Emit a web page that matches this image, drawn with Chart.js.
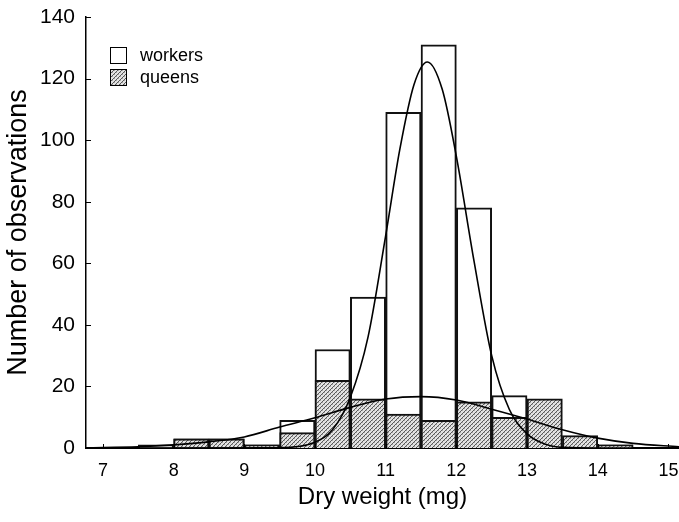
<!DOCTYPE html>
<html><head><meta charset="utf-8">
<script src="https://cdn.jsdelivr.net/npm/chart.js@4/dist/chart.umd.min.js"></script>
<style>html,body{margin:0;padding:0;background:#fff}#wrap{width:679px;height:522px;position:relative}</style>
</head><body><div id="wrap"><canvas id="c"></canvas></div>
<script>
// Histogram bins (centre of each 0.5 mg class)
const binCentres = [7.75, 8.25, 8.75, 9.25, 9.75, 10.25, 10.75, 11.25, 11.75, 12.25, 12.75, 13.25, 13.75, 14.25, 14.75];
const workers    = [1, 3, 3, 1, 9, 32, 49, 109, 131, 78, 17, null, null, 1, null];
const queens     = [null, 3, 3, 1, 5, 22, 16, 11, 9, 15, 10, 16, 4, 1, null];

// Fitted curves
const workerCurveX = [6.76, 9.5, 10.0, 10.25, 10.5, 10.75, 11.0, 11.2, 11.4, 11.59, 11.8, 12.0, 12.25, 12.5, 12.75, 13.0, 13.25, 13.5, 14.0, 15.15];
const workerCurveY = [0, 0.1, 1.9, 6, 16.5, 36, 69, 97, 118, 125.4, 116.5, 94.7, 60.7, 30, 12.5, 4.6, 1.3, 0.2, 0, 0];
const queenCurveX  = [6.76, 7.5, 8.0, 8.5, 9.0, 9.5, 10.0, 10.5, 11.0, 11.5, 12.0, 12.5, 13.0, 13.5, 14.0, 14.5, 15.15];
const queenCurveY  = [0.1, 0.4, 1.0, 2.0, 3.6, 6.8, 9.8, 13.2, 15.9, 16.7, 15.6, 12.6, 9.4, 5.9, 3.2, 1.5, 0.4];

const xTicks = [7, 8, 9, 10, 11, 12, 13, 14, 15];
const yTicks = [0, 20, 40, 60, 80, 100, 120, 140];
const legendLabels = ['workers', 'queens'];
const xTitle = 'Dry weight (mg)';
const yTitle = 'Number of observations';

const FONT = "'Liberation Sans', Arial, Helvetica, sans-serif";

function makeHatch() {
  const p = document.createElement('canvas');
  p.width = 4; p.height = 4;
  const c = p.getContext('2d');
  c.fillStyle = '#e2e2e2';
  c.fillRect(0, 0, 4, 4);
  c.fillStyle = '#5a5a5a';
  for (let i = 0; i < 4; i++) c.fillRect(i, 3 - i, 1, 1);
  c.fillStyle = '#a8a8a8';
  c.fillRect(0, 0, 1, 1); c.fillRect(2, 2, 1, 1);
  return document.createElement('canvas').getContext('2d').createPattern(p, 'repeat');
}
const hatch = makeHatch();

const pts = (xs, ys) => xs.map((x, i) => ({x: x, y: ys[i]}));

const tickMarks = {
  id: 'tickMarks',
  afterDatasetsDraw(chart) {
    const ctx = chart.ctx, xs = chart.scales.x, ys = chart.scales.y, a = chart.chartArea;
    ctx.save();
    ctx.strokeStyle = '#000';
    ctx.lineWidth = 1;
    xTicks.forEach(v => {
      const px = Math.round(xs.getPixelForValue(v)) + 0.5;
      ctx.beginPath(); ctx.moveTo(px, a.bottom); ctx.lineTo(px, a.bottom - 4); ctx.stroke();
    });
    yTicks.forEach(v => {
      const py = Math.round(ys.getPixelForValue(v)) + 0.5;
      ctx.beginPath(); ctx.moveTo(a.left, py); ctx.lineTo(a.left + 5, py); ctx.stroke();
    });
    // legend
    ctx.font = '18px ' + FONT;
    ctx.textBaseline = 'middle';
    const boxes = [{fill: '#fff', y: 47}, {fill: hatch, y: 69}];
    boxes.forEach((b, i) => {
      ctx.fillStyle = b.fill;
      ctx.fillRect(110.5, b.y + 0.5, 16, 16);
      ctx.strokeStyle = '#000';
      ctx.lineWidth = 1;
      ctx.strokeRect(110.5, b.y + 0.5, 16, 16);
      ctx.fillStyle = '#000';
      ctx.fillText(legendLabels[i], 140, b.y + 9);
    });
    ctx.restore();
  }
};

new Chart(document.getElementById('c'), {
  data: {
    datasets: [
      {type: 'line', data: pts(workerCurveX, workerCurveY), borderColor: '#000', borderWidth: 1.6, pointRadius: 0, cubicInterpolationMode: 'monotone', fill: false, order: 0},
      {type: 'line', data: pts(queenCurveX, queenCurveY), borderColor: '#000', borderWidth: 1.6, pointRadius: 0, cubicInterpolationMode: 'monotone', fill: false, order: 1},
      {type: 'bar', data: pts(binCentres, queens), backgroundColor: hatch, borderColor: '#111', borderWidth: 2, barPercentage: 1, categoryPercentage: 1, grouped: false, order: 2},
      {type: 'bar', data: pts(binCentres, workers), backgroundColor: '#fff', borderColor: '#111', borderWidth: 2, barPercentage: 1, categoryPercentage: 1, grouped: false, order: 3}
    ]
  },
  options: {
    responsive: true,
    maintainAspectRatio: false,
    animation: false,
    devicePixelRatio: 1,
    layout: {padding: {top: 17, right: 0, left: 0, bottom: 0}},
    plugins: {legend: {display: false}, tooltip: {enabled: false}},
    scales: {
      x: {
        type: 'linear', min: 6.76, max: 15.15, offset: false,
        afterFit: s => { s.height = 74; s.paddingLeft = 0; s.paddingRight = 0; },
        afterBuildTicks: s => { s.ticks = xTicks.map(v => ({value: v})); },
        grid: {display: false, drawTicks: false, offset: false},
        border: {display: true, color: '#000', width: 2},
        ticks: {color: '#000', font: {family: FONT, size: 18}, padding: 12, maxRotation: 0, autoSkip: false},
        title: {display: true, text: xTitle, color: '#000', font: {family: FONT, size: 24}, padding: {top: 0, bottom: 10}}
      },
      y: {
        type: 'linear', min: 0, max: 140,
        afterFit: s => { s.width = 86; s.paddingTop = 0; s.paddingBottom = 0; },
        afterBuildTicks: s => { s.ticks = yTicks.map(v => ({value: v})); },
        grid: {display: false, drawTicks: false},
        border: {display: true, color: '#000', width: 1.5},
        ticks: {color: '#000', font: {family: FONT, size: 21}, padding: 11},
        title: {display: true, text: yTitle, color: '#000', font: {family: FONT, size: 27}, padding: {top: 2, bottom: 0}}
      }
    }
  },
  plugins: [tickMarks]
});
</script>
</body></html>
